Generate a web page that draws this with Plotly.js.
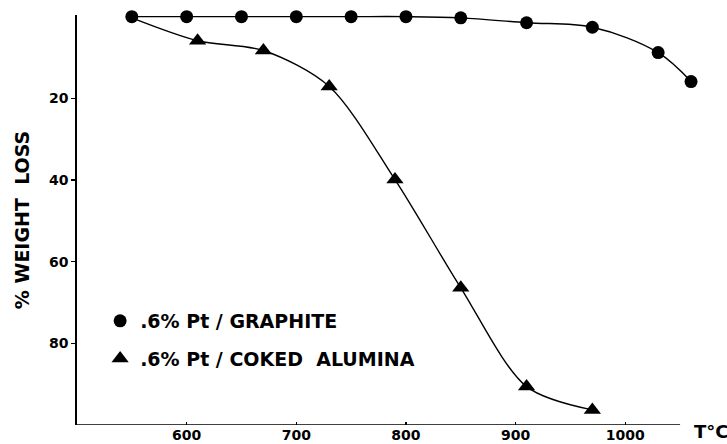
<!DOCTYPE html>
<html>
<head>
<meta charset="utf-8">
<script src="https://cdn.plot.ly/plotly-3.0.1.min.js"></script>
<style>
  html, body { margin: 0; padding: 0; background: #fff; }
  #chart { width: 727px; height: 444px; }
</style>
</head>
<body>
<div id="chart"></div>
<script>
// Temperatures (°C) and % weight loss
var graphiteT = [550, 600, 650, 700, 750, 800, 850, 910, 970, 1030, 1060];
var graphiteLoss = [0, 0, 0, 0, 0, 0, 0.3, 1.5, 2.6, 8.8, 15.9];

var aluminaT = [550, 610, 670, 730, 790, 850, 910, 970];
var aluminaLoss = [0.3, 5.9, 8.3, 17.1, 39.9, 66.4, 90.6, 96.3];

var xTicks = [600, 700, 800, 900, 1000];
var yTicks = [20, 40, 60, 80];

var seriesNames = ['.6% Pt / GRAPHITE', '.6% Pt / COKED  ALUMINA'];

var tickFont = {family: 'DejaVu Sans, sans-serif', size: 14, color: '#000', weight: 700};
var bigFont = {family: 'DejaVu Sans, sans-serif', size: 19, color: '#000', weight: 700};

var traces = [
  {
    x: graphiteT, y: graphiteLoss, mode: 'lines', showlegend: false,
    line: {color: '#000', width: 1.4, shape: 'spline', smoothing: 1},
    hoverinfo: 'skip'
  },
  {
    x: aluminaT, y: aluminaLoss, mode: 'lines', showlegend: false,
    line: {color: '#000', width: 1.4, shape: 'spline', smoothing: 0.85},
    hoverinfo: 'skip'
  },
  {
    x: graphiteT, y: graphiteLoss, mode: 'markers', name: seriesNames[0],
    marker: {symbol: 'circle', size: 13, color: '#000'},
    legendgroup: 'a', cliponaxis: false
  },
  {
    x: aluminaT.slice(1), y: aluminaLoss.slice(1), mode: 'markers', name: seriesNames[1],
    marker: {symbol: 'triangle-up', size: 15, color: '#000'},
    legendgroup: 'b', cliponaxis: false
  }
];

var layout = {
  width: 727, height: 444,
  margin: {l: 77, r: 25, t: 15, b: 19, pad: 0},
  paper_bgcolor: '#fff', plot_bgcolor: '#fff',
  showlegend: true,
  legend: {
    x: 0.037, y: 0.3, xanchor: 'left', yanchor: 'top',
    font: bigFont, bgcolor: 'rgba(0,0,0,0)', borderwidth: 0,
    tracegroupgap: 10, itemwidth: 30
  },
  xaxis: {
    range: [500, 1070],
    showgrid: false, zeroline: false,
    showline: false,
    ticks: 'inside', ticklen: 3, tickwidth: 1.2, tickcolor: '#000',
    tickvals: xTicks, ticktext: xTicks.map(String),
    tickfont: tickFont
  },
  yaxis: {
    range: [100, -0.4],
    showgrid: false, zeroline: false,
    showline: true, linecolor: '#000', linewidth: 1.6,
    ticks: 'outside', ticklen: 4, tickwidth: 1.2, tickcolor: '#000',
    tickvals: yTicks, ticktext: yTicks.map(String),
    tickfont: tickFont,
    title: {text: '% WEIGHT  LOSS', font: bigFont, standoff: 14}
  },
  shapes: [
    {type: 'line', xref: 'x', yref: 'y', x0: 500, x1: 1050, y0: 100, y1: 100,
     line: {color: '#000', width: 1.6}}
  ],
  annotations: [
    {
      text: 'T°C', xref: 'x', yref: 'paper', x: 1061, y: -0.015,
      xanchor: 'left', yanchor: 'middle', showarrow: false,
      font: {family: 'DejaVu Sans, sans-serif', size: 18, color: '#000', weight: 700}
    }
  ]
};

Plotly.newPlot('chart', traces, layout, {displayModeBar: false, staticPlot: true});
</script>
</body>
</html>
